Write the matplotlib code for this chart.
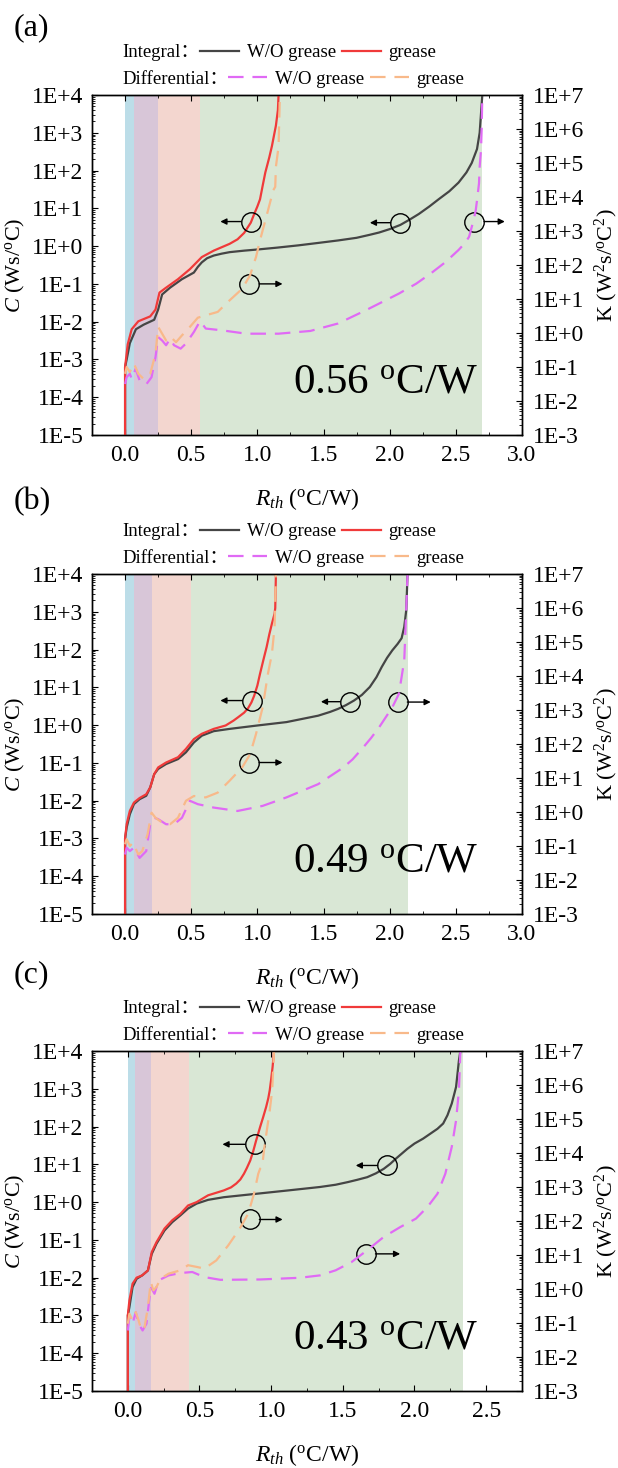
import numpy as np
import matplotlib
matplotlib.use("Agg")
import matplotlib.pyplot as plt
from matplotlib.lines import Line2D
from matplotlib.ticker import LogLocator, FuncFormatter, MultipleLocator, NullFormatter

plt.rcParams['font.family'] = ['Liberation Serif', 'Noto Sans CJK SC']
plt.rcParams['mathtext.fontset'] = 'custom'
plt.rcParams['mathtext.rm'] = 'Liberation Serif'
plt.rcParams['mathtext.it'] = 'Liberation Serif:italic'

# ---- panel (a) ----
a_int_wo_x = [0.0, 0.0, 0.012, 0.036, 0.082, 0.14, 0.22, 0.25, 0.28, 0.34, 0.43, 0.52, 0.55, 0.58, 0.62, 0.67,
              0.73, 0.79, 0.9, 1.0, 1.15, 1.31, 1.45, 1.61, 1.75, 1.85, 1.92, 2.0, 2.08, 2.15, 2.22, 2.30, 2.37,
              2.45, 2.52, 2.58, 2.62, 2.66, 2.68, 2.69, 2.70]
a_int_wo_logC = [-5, -3.2, -3.0, -2.57, -2.2, -2.08, -1.95, -1.68, -1.28, -1.1, -0.875, -0.70, -0.55, -0.43, -0.32,
                 -0.25, -0.2, -0.16, -0.12, -0.09, -0.04, 0.02, 0.08, 0.15, 0.22, 0.30, 0.36, 0.45, 0.56, 0.70,
                 0.85, 1.05, 1.24, 1.45, 1.68, 1.95, 2.2, 2.57, 3.0, 3.5, 4.0]
a_int_gr_x = [0.0, 0.0, 0.02, 0.05, 0.10, 0.19, 0.23, 0.26, 0.31, 0.40, 0.49, 0.58, 0.67, 0.79, 0.85, 0.90, 0.95,
              0.976, 1.0, 1.02, 1.04, 1.06, 1.09, 1.11, 1.14, 1.155, 1.16]
a_int_gr_logC = [-5, -3.2, -2.6, -2.2, -1.99, -1.86, -1.68, -1.23, -1.10, -0.875, -0.61, -0.29, -0.12, 0.06, 0.18,
                 0.35, 0.62, 0.85, 1.05, 1.24, 1.6, 1.95, 2.35, 2.65, 3.19, 3.6, 4.0]
a_dif_wo_x = [0.0, 0.012, 0.036, 0.05, 0.08, 0.11, 0.16, 0.20, 0.23, 0.25, 0.28, 0.31, 0.34, 0.37, 0.42, 0.46, 0.52,
              0.567, 0.61, 0.73, 0.915, 1.16, 1.4, 1.61, 1.82, 2.07, 2.2, 2.31, 2.42, 2.52, 2.57, 2.6, 2.63, 2.65,
              2.66, 2.675, 2.68, 2.69, 2.695, 2.70]
a_dif_wo_logK = [-1.5, -1.3, -1.2, -1.35, -1.05, -1.4, -1.51, -1.3, -0.71, -0.12, -0.22, -0.36, -0.17, -0.36, -0.46,
                 -0.31, 0.03, 0.35, 0.13, 0.08, -0.02, -0.02, 0.06, 0.28, 0.67, 1.16, 1.45, 1.75, 2.08, 2.44, 2.65,
                 2.83, 3.26, 3.6, 3.9, 4.4, 4.89, 5.38, 6.0, 7.0]
a_dif_gr_x = [0.0, 0.012, 0.036, 0.067, 0.10, 0.14, 0.19, 0.23, 0.25, 0.28, 0.31, 0.34, 0.385, 0.43, 0.49, 0.55,
              0.61, 0.70, 0.79, 0.885, 0.945, 0.99, 1.02, 1.06, 1.10, 1.12, 1.135, 1.14, 1.16, 1.17]
a_dif_gr_logK = [-1.2, -1.0, -1.15, -0.9, -1.2, -1.35, -1.2, -0.61, 0.18, -0.02, -0.22, -0.1, -0.27, -0.07, 0.18,
                 0.45, 0.52, 0.62, 0.96, 1.3, 1.7, 2.24, 2.73, 3.31, 3.9, 4.2, 4.3, 4.89, 5.48, 7.0]
a_marks_x = [0.95, 2.08, 2.64, 0.94]
a_marks_logC = [0.65, 0.62, 0.65, -1.0]
a_marks_tip = [0.72, 1.85, 2.87, 1.19]
a_spans = [0.0, 0.068, 0.25, 0.567, 2.70]

# ---- panel (b) ----
b_int_wo_x = [0.0, 0.0, 0.012, 0.036, 0.067, 0.11, 0.16, 0.19, 0.22, 0.25, 0.31, 0.40, 0.46, 0.52, 0.58, 0.67,
              0.79, 1.0, 1.22, 1.46, 1.55, 1.61, 1.67, 1.73, 1.79, 1.85, 1.90, 1.94, 1.98, 2.02, 2.06, 2.09,
              2.11, 2.125, 2.13, 2.135]
b_int_wo_logC = [-5, -3.0, -2.71, -2.36, -2.09, -1.96, -1.87, -1.65, -1.30, -1.16, -1.03, -0.90, -0.72, -0.46, -0.28,
                 -0.16, -0.10, -0.01, 0.08, 0.25, 0.35, 0.43, 0.53, 0.65, 0.80, 1.01, 1.27, 1.54, 1.78, 1.98, 2.15,
                 2.3, 2.6, 3.04, 3.5, 4.0]
b_int_gr_x = [0.0, 0.0, 0.012, 0.036, 0.067, 0.11, 0.16, 0.19, 0.22, 0.25, 0.31, 0.40, 0.46, 0.52, 0.58, 0.67,
              0.76, 0.82, 0.855, 0.90, 0.93, 0.955, 0.976, 1.0, 1.02, 1.045, 1.07, 1.09, 1.11, 1.13, 1.135, 1.14]
b_int_gr_logC = [-5, -3.0, -2.62, -2.27, -2.05, -1.93, -1.83, -1.65, -1.30, -1.12, -0.99, -0.85, -0.63, -0.37, -0.23,
                 -0.10, -0.01, 0.12, 0.21, 0.33, 0.45, 0.6, 0.78, 1.05, 1.36, 1.72, 2.07, 2.4, 2.69, 2.95, 3.1, 4.0]
b_dif_wo_x = [0.0, 0.012, 0.036, 0.067, 0.11, 0.16, 0.19, 0.22, 0.25, 0.31, 0.37, 0.43, 0.49, 0.55, 0.67, 0.85,
              1.04, 1.22, 1.46, 1.65, 1.72, 1.80, 1.86, 1.92, 2.02, 2.07, 2.11, 2.12, 2.135]
b_dif_wo_logK = [-1.25, -1.05, -1.15, -1.05, -1.35, -1.15, -0.36, -0.17, -0.21, -0.36, -0.36, -0.17, 0.33, 0.23,
                 0.13, 0.03, 0.18, 0.43, 0.82, 1.31, 1.55, 1.90, 2.18, 2.49, 3.08, 3.48, 4.46, 5.44, 7.0]
b_dif_gr_x = [0.0, 0.012, 0.036, 0.06, 0.10, 0.13, 0.17, 0.20, 0.23, 0.28, 0.34, 0.40, 0.46, 0.52, 0.61, 0.70,
              0.79, 0.885, 0.945, 0.99, 1.04, 1.08, 1.11, 1.13, 1.14]
b_dif_gr_logK = [-0.95, -0.80, -1.0, -0.90, -1.25, -1.15, -0.66, -0.02, -0.17, -0.31, -0.36, -0.17, 0.33, 0.47,
                 0.43, 0.57, 0.92, 1.31, 1.70, 2.30, 3.08, 4.07, 4.66, 5.44, 7.0]
b_marks_x = [0.96, 1.70, 2.06, 0.94]
b_marks_logC = [0.65, 0.62, 0.61, -0.99]
b_marks_tip = [0.72, 1.48, 2.31, 1.19]
b_spans = [0.0, 0.068, 0.205, 0.50, 2.14]

# ---- panel (c) ----
c_int_wo_x = [0.0, 0.0, 0.011, 0.033, 0.061, 0.10, 0.14, 0.167, 0.20, 0.256, 0.31, 0.367, 0.42, 0.48, 0.56, 0.67,
              0.895, 1.12, 1.34, 1.45, 1.535, 1.6, 1.67, 1.73, 1.785, 1.83, 1.87, 1.91, 1.95, 2.0, 2.06, 2.11,
              2.16, 2.2, 2.23, 2.26, 2.28, 2.29, 2.30, 2.31, 2.32]
c_int_wo_logC = [-5, -3.0, -2.78, -2.25, -2.03, -1.94, -1.81, -1.37, -1.10, -0.75, -0.53, -0.35, -0.17, -0.04, 0.06,
                 0.13, 0.22, 0.31, 0.40, 0.46, 0.53, 0.59, 0.66, 0.76, 0.88, 1.01, 1.15, 1.28, 1.41, 1.55, 1.68,
                 1.81, 1.94, 2.08, 2.3, 2.61, 2.9, 3.05, 3.4, 3.75, 4.0]
c_int_gr_x = [0.0, 0.0, 0.011, 0.033, 0.061, 0.10, 0.14, 0.167, 0.20, 0.256, 0.31, 0.367, 0.42, 0.48, 0.56, 0.67,
              0.72, 0.756, 0.785, 0.81, 0.83, 0.854, 0.875, 0.895, 0.91, 0.923, 0.945, 0.965, 0.98, 0.99, 1.0,
              1.01, 1.02]
c_int_gr_logC = [-5, -3.0, -2.60, -2.16, -2.0, -1.94, -1.81, -1.32, -1.06, -0.70, -0.48, -0.31, -0.09, 0.0, 0.18,
                 0.31, 0.39, 0.49, 0.6, 0.75, 0.9, 1.10, 1.35, 1.63, 1.82, 1.99, 2.26, 2.52, 2.75, 2.96, 3.25,
                 3.58, 4.0]
c_dif_wo_x = [0.0, 0.011, 0.033, 0.055, 0.075, 0.103, 0.13, 0.16, 0.186, 0.214, 0.284, 0.367, 0.45, 0.534, 0.645,
              0.923, 1.20, 1.34, 1.45, 1.56, 1.67, 1.785, 1.90, 2.01, 2.09, 2.16, 2.215, 2.26, 2.29, 2.31, 2.32]
c_dif_wo_logK = [-1.22, -0.82, -1.02, -0.68, -1.02, -1.22, -1.02, 0.06, -0.14, 0.25, 0.40, 0.47, 0.50, 0.35, 0.27,
                 0.28, 0.33, 0.40, 0.55, 0.79, 1.14, 1.53, 1.82, 2.07, 2.41, 2.80, 3.39, 4.18, 4.96, 5.84, 7.0]
c_dif_gr_x = [0.0, 0.011, 0.033, 0.055, 0.075, 0.095, 0.117, 0.14, 0.16, 0.178, 0.20, 0.228, 0.284, 0.367, 0.42,
              0.48, 0.534, 0.617, 0.70, 0.78, 0.84, 0.88, 0.91, 0.923, 0.937, 0.95, 0.973, 0.99, 1.007, 1.02]
c_dif_gr_logK = [-1.02, -0.73, -0.92, -0.68, -0.92, -1.22, -1.12, -0.53, 0.21, -0.04, 0.06, 0.30, 0.45, 0.55, 0.70,
                 0.65, 0.60, 0.84, 1.28, 1.77, 2.22, 2.80, 3.39, 3.54, 3.59, 4.08, 4.76, 5.25, 5.84, 7.0]
c_marks_x = [0.887, 1.81, 0.85, 1.66]
c_marks_logC = [1.53, 0.97, -0.46, -1.37]
c_marks_tip = [0.66, 1.59, 1.08, 1.90]
c_spans = [0.0, 0.053, 0.165, 0.425, 2.34]

panel_names = ["(a)", "(b)", "(c)"]
panel_rth = ["0.56", "0.49", "0.43"]
panel_xmax = [3.0, 3.0, 2.75]

span_colors = ['#bcdde8', '#d8c6d8', '#f3d6cf', '#d9e7d5']
c_wo, c_gr = '#454545', '#f03a3a'
k_wo, k_gr = '#e06af5', '#f8b98a'

panels = [
    (a_int_wo_x, a_int_wo_logC, a_int_gr_x, a_int_gr_logC, a_dif_wo_x, a_dif_wo_logK, a_dif_gr_x, a_dif_gr_logK,
     a_marks_x, a_marks_logC, a_marks_tip, a_spans),
    (b_int_wo_x, b_int_wo_logC, b_int_gr_x, b_int_gr_logC, b_dif_wo_x, b_dif_wo_logK, b_dif_gr_x, b_dif_gr_logK,
     b_marks_x, b_marks_logC, b_marks_tip, b_spans),
    (c_int_wo_x, c_int_wo_logC, c_int_gr_x, c_int_gr_logC, c_dif_wo_x, c_dif_wo_logK, c_dif_gr_x, c_dif_gr_logK,
     c_marks_x, c_marks_logC, c_marks_tip, c_spans),
]

W, H = 618, 1468
fig = plt.figure(figsize=(W / 100, H / 100), dpi=100)

ax_tops = [95, 574, 1051]
letter_y = [28, 502, 975]
ax_h = 340
ax_l, ax_w = 92, 430

fmt = FuncFormatter(lambda v, p: "1E%+d" % int(round(np.log10(v))))
dash = (7, 4)

for i, pdata in enumerate(panels):
    (iwx, iwy, igx, igy, dwx, dwy, dgx, dgy, mx, my, mt, spans) = pdata
    top = ax_tops[i]
    ax1 = fig.add_axes([ax_l / W, 1 - (top + ax_h) / H, ax_w / W, ax_h / H])
    ax2 = ax1.twinx()

    for j in range(4):
        ax1.axvspan(spans[j], spans[j + 1], color=span_colors[j], lw=0, zorder=0)

    ax1.plot(iwx, np.power(10.0, iwy), color=c_wo, lw=1.6, zorder=3)
    ax1.plot(igx, np.power(10.0, igy), color=c_gr, lw=1.6, zorder=3)
    ax2.plot(dwx, np.power(10.0, dwy), color=k_wo, lw=1.6, dashes=dash)
    ax2.plot(dgx, np.power(10.0, dgy), color=k_gr, lw=1.6, dashes=dash)

    # circles with arrows pointing to the relevant axis
    for cx, cy, tip in zip(mx, my, mt):
        yv = 10.0 ** cy
        ax1.plot([cx], [yv], marker='o', ms=14, mfc='none', mec='k', mew=1.0, zorder=5)
        ax1.annotate('', xy=(tip, yv), xytext=(cx, yv),
                     arrowprops=dict(arrowstyle='-|>', color='k', lw=1.0, mutation_scale=9,
                                     shrinkA=7, shrinkB=0), zorder=5)

    ax1.set_xlim(-0.25, panel_xmax[i])
    ax1.set_yscale('log')
    ax2.set_yscale('log')
    ax1.set_ylim(1e-5, 1e4)
    ax2.set_ylim(1e-3, 1e7)

    ax1.xaxis.set_major_locator(MultipleLocator(0.5))
    ax1.xaxis.set_minor_locator(MultipleLocator(0.25))
    ax1.xaxis.set_major_formatter(FuncFormatter(lambda v, p: "%.1f" % v))
    for ax in (ax1, ax2):
        ax.yaxis.set_major_locator(LogLocator(base=10, numticks=20))
        ax.yaxis.set_minor_locator(LogLocator(base=10, subs=np.arange(2, 10), numticks=100))
        ax.yaxis.set_major_formatter(fmt)
        ax.yaxis.set_minor_formatter(NullFormatter())
        for s in ax.spines.values():
            s.set_linewidth(1.0)

    ax1.tick_params(axis='x', which='both', direction='in', top=True, bottom=True, labelsize=17, pad=7)
    ax1.tick_params(axis='y', which='both', direction='in', left=True, right=False, labelsize=17, pad=6)
    ax2.tick_params(axis='y', which='both', direction='in', right=True, labelsize=17, pad=8)
    for ax in (ax1, ax2):
        ax.tick_params(which='major', length=4, width=0.8)
        ax.tick_params(which='minor', length=2, width=0.6)

    ax1.set_xlabel("$R_{th}$ ($^{\\rm o}$C/W)", fontsize=17, labelpad=15)
    ax1.set_ylabel("$C$ (Ws/$^{\\rm o}$C)", fontsize=16)
    ax1.yaxis.set_label_coords(-0.15, 0.5)
    ax2.set_ylabel("K (W$^2$s/$^{\\rm o}$C$^2$)", fontsize=16, rotation=90)
    ax2.yaxis.set_label_coords(1.165, 0.5)

    ax1.text(0.898, 0.155, panel_rth[i] + " $^{\\rm o}$C/W", transform=ax1.transAxes,
             ha='right', va='center', fontsize=31, zorder=6)

    fig.text(14 / W, 1 - letter_y[i] / H, panel_names[i], fontsize=23, ha='left', va='center')

    # two-row legend above the axes
    ax2.text(0.07, 1.124, "Integral：", transform=ax2.transAxes, fontsize=13.5, ha='left', va='center')
    ax2.text(0.07, 1.047, "Differential：", transform=ax2.transAxes, fontsize=13.5, ha='left', va='center')
    h_int = [Line2D([], [], color=c_wo, lw=1.6), Line2D([], [], color=c_gr, lw=1.6)]
    h_dif = [Line2D([], [], color=k_wo, lw=1.6, dashes=dash), Line2D([], [], color=k_gr, lw=1.6, dashes=dash)]
    leg1 = ax2.legend(h_int, ["W/O grease", "grease"], ncol=2, loc='center left',
                      bbox_to_anchor=(0.251, 1.124), bbox_transform=ax2.transAxes, frameon=False,
                      borderpad=0, borderaxespad=0, handlelength=2.1, handletextpad=0.4,
                      columnspacing=0.3, fontsize=13.5)
    ax2.add_artist(leg1)
    ax2.legend(h_dif, ["W/O grease", "grease"], ncol=2, loc='center left',
               bbox_to_anchor=(0.316, 1.047), bbox_transform=ax2.transAxes, frameon=False,
               borderpad=0, borderaxespad=0, handlelength=2.1, handletextpad=0.4,
               columnspacing=0.3, fontsize=13.5)

fig.savefig("out.png", dpi=100)
